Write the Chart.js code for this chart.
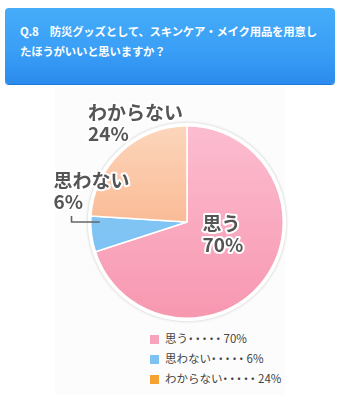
<!DOCTYPE html>
<html lang="ja">
<head>
<meta charset="utf-8">
<script src="https://cdn.jsdelivr.net/npm/chart.js@4.4.1/dist/chart.umd.min.js"></script>
<style>
  body { margin: 0; width: 345px; height: 395px; background: #fff; font-family: "Noto Sans CJK JP", sans-serif; position: relative; overflow: hidden; }
  .head { position: absolute; left: 5px; top: 8px; width: 330px; height: 76px; border-radius: 4px;
    background: linear-gradient(#45acf9, #3a9ff6 55%, #2b8bee); box-shadow: 0 1px 0 #1f78d8; }
  .head p { margin: 0; padding: 13px 0 0 15px; color: #fff; font-weight: bold; font-size: 11.4px; line-height: 20px; letter-spacing: -0.2px; }
  .panel { position: absolute; left: 55px; top: 88px; width: 230px; height: 307px; background: #fcfcfc; }
  #wrap { position: absolute; left: 0; top: 92px; width: 345px; height: 236px; }
  ul { position: absolute; left: 150px; top: 328px; margin: 0; padding: 0; list-style: none; font-size: 11.5px; color: #444; }
  li { height: 20px; line-height: 20px; }
  li span { display: inline-block; width: 9px; height: 9px; margin-right: 6px; vertical-align: -1px; }
  li em { font-style: normal; letter-spacing: -4.6px; margin: 0 4px 0 -3px; }
</style>
</head>
<body>
<div class="head"><p>Q.8　防災グッズとして、スキンケア・メイク用品を用意し<br>たほうがいいと思いますか？</p></div>
<div class="panel"></div>
<div id="wrap"><canvas id="pie"></canvas></div>
<ul id="legend"></ul>
<script>
const answers = ['思う', '思わない', 'わからない'];
const shares = [70, 6, 24];
const legendColors = ['#f6a3bb', '#7cc2f3', '#f6a232'];
const sliceTop = ['#fcbdd0', '#8fcdf7', '#fcd6bc'];
const sliceBottom = ['#f797b0', '#72bcf1', '#f9a070'];

// label placement: radius factor of arc center, then pixel nudge
const labelSpots = [
  { r: 0.2, dx: 0, dy: -10, align: 'left' },
  { r: 1.0, dx: -38, dy: -53, align: 'left' },
  { r: 1.0, dx: -33, dy: -39, align: 'left' }
];

function sliceFill(ctx) {
  const chart = ctx.chart;
  const area = chart.chartArea;
  if (!area) return sliceBottom[ctx.dataIndex];
  const g = chart.ctx.createLinearGradient(0, area.top, 0, area.bottom);
  g.addColorStop(0, sliceTop[ctx.dataIndex]);
  g.addColorStop(1, sliceBottom[ctx.dataIndex]);
  return g;
}

const ringPlugin = {
  id: 'ring',
  beforeDatasetsDraw(chart) {
    const arc = chart.getDatasetMeta(0).data[0];
    const c = chart.ctx;
    c.save();
    c.beginPath();
    c.arc(arc.x, arc.y, arc.outerRadius + 3, 0, Math.PI * 2);
    c.fillStyle = '#fff';
    c.shadowColor = 'rgba(0,0,0,0.22)';
    c.shadowBlur = 3;
    c.fill();
    c.restore();
  }
};

const labelPlugin = {
  id: 'sliceLabels',
  afterDatasetsDraw(chart) {
    const c = chart.ctx;
    const arcs = chart.getDatasetMeta(0).data;
    c.save();
    c.font = 'bold 19px "Noto Sans CJK JP", sans-serif';
    c.textBaseline = 'middle';
    c.lineJoin = 'round';
    arcs.forEach((arc, i) => {
      const spot = labelSpots[i];
      const mid = (arc.startAngle + arc.endAngle) / 2;
      const x = arc.x + Math.cos(mid) * arc.outerRadius * spot.r + spot.dx;
      const y = arc.y + Math.sin(mid) * arc.outerRadius * spot.r + spot.dy;
      c.textAlign = spot.align;
      [answers[i], shares[i] + '%'].forEach((t, k) => {
        c.strokeStyle = '#fff';
        c.lineWidth = 4;
        c.strokeText(t, x, y + k * 21);
        c.fillStyle = '#555';
        c.fillText(t, x, y + k * 21);
      });
      if (i === 1) {
        // leader line from the label down into the slice
        c.beginPath();
        c.moveTo(x + 18, y + 35);
        c.lineTo(x + 18, y + 41);
        c.lineTo(arc.x - arc.outerRadius + 9, y + 41);
        c.strokeStyle = '#666';
        c.lineWidth = 1.6;
        c.stroke();
      }
    });
    c.restore();
  }
};

new Chart(document.getElementById('pie'), {
  type: 'pie',
  data: {
    labels: answers,
    datasets: [{
      data: shares,
      backgroundColor: sliceFill,
      borderColor: '#fff',
      borderWidth: 1.5
    }]
  },
  options: {
    responsive: true,
    maintainAspectRatio: false,
    animation: false,
    layout: { padding: { top: 33, bottom: 9, left: 40, right: 11 } },
    plugins: { legend: { display: false }, tooltip: { enabled: false } }
  },
  plugins: [ringPlugin, labelPlugin]
});

const legendList = document.getElementById('legend');
answers.forEach((name, i) => {
  const item = document.createElement('li');
  item.innerHTML = `<span style="background:${legendColors[i]}"></span>${name}<em>・・・・・</em>${shares[i]}%`;
  legendList.appendChild(item);
});
</script>
</body>
</html>
